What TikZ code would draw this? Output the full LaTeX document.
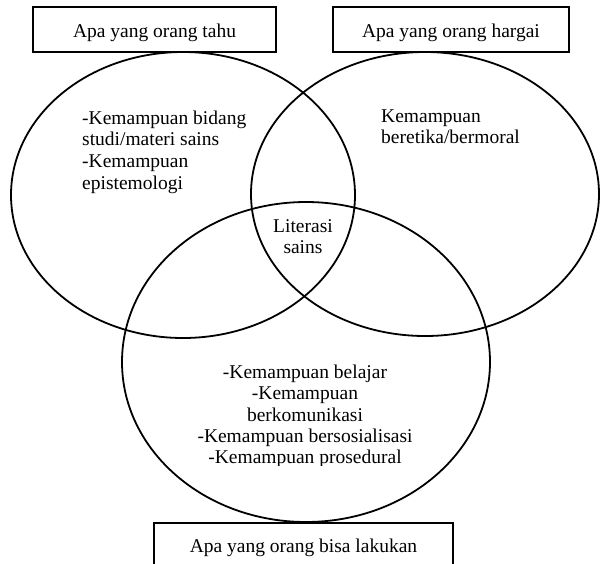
\documentclass[tikz,border=0pt]{standalone}
\usepackage{fontspec}
\setmainfont{Liberation Serif}
\usetikzlibrary{shapes.geometric}
\begin{document}
\begin{tikzpicture}[x=1pt,y=-1pt,
  ring/.style={draw, ellipse, line width=1.8pt, inner sep=0pt},
  labelbox/.style={draw, line width=1.8pt, inner sep=0pt},
  txt/.style={inner sep=0pt, font=\fontsize{19.5}{21.7}\selectfont}]
\useasboundingbox (0,0) rectangle (600,563);
\clip (0,0) rectangle (600,563);

% circles of the Venn diagram
\node[ring, minimum width=344pt, minimum height=286pt] (know) at (183,195) {};
\node[ring, minimum width=348pt, minimum height=284pt] (value) at (425,194) {};
\node[ring, minimum width=368pt, minimum height=320pt] (do) at (306,362) {};

% label boxes
\node[labelbox, minimum width=243pt, minimum height=45pt] (boxknow) at (154.5,29.5) {};
\node[txt, anchor=base] (tknow) at (154.5,37) {Apa yang orang tahu};
\node[labelbox, minimum width=236pt, minimum height=45pt] (boxvalue) at (451,29.5) {};
\node[txt, anchor=base] (tvalue) at (451,37) {Apa yang orang hargai};
\node[labelbox, minimum width=299pt, minimum height=56pt] (boxdo) at (303.5,551) {};
\node[txt, anchor=base] (tdo) at (303.5,552) {Apa yang orang bisa lakukan};

% left circle text
\node[txt, anchor=base west] (k1) at (82,124) {-Kemampuan bidang};
\node[txt, anchor=base west] (k2) at (82,145.7) {studi/materi sains};
\node[txt, anchor=base west] (k3) at (82,167.4) {-Kemampuan};
\node[txt, anchor=base west] (k4) at (82,189.1) {epistemologi};

% right circle text
\node[txt, anchor=base west] (v1) at (381,122) {Kemampuan};
\node[txt, anchor=base west] (v2) at (381,143.7) {beretika/bermoral};

% centre text
\node[txt, anchor=base] (c1) at (303,232) {Literasi};
\node[txt, anchor=base] (c2) at (303,253.7) {sains};

% bottom circle text (last line cut off as in the original)
\begin{scope}
\clip (0,0) rectangle (600,465);
\node[txt, anchor=base] (d1) at (305,378) {-Kemampuan belajar};
\node[txt, anchor=base] (d2) at (305,399.5) {-Kemampuan};
\node[txt, anchor=base] (d3) at (305,421) {berkomunikasi};
\node[txt, anchor=base] (d4) at (305,442) {-Kemampuan bersosialisasi};
\node[txt, anchor=base] (d5) at (305,463.3) {-Kemampuan prosedural};
\end{scope}
\end{tikzpicture}
\end{document}
